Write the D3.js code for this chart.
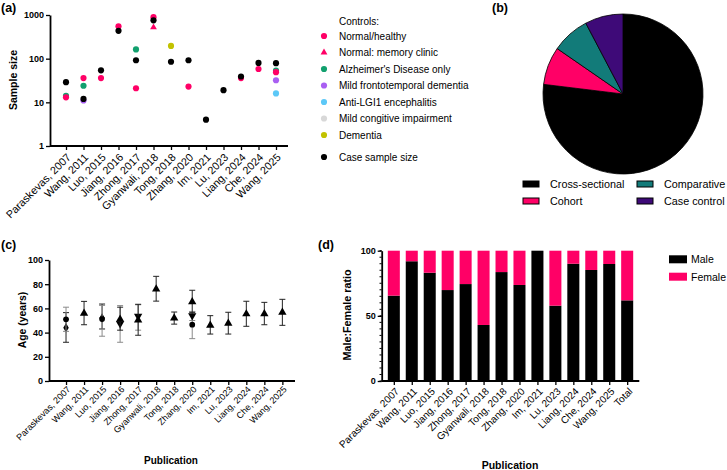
<!DOCTYPE html>
<html>
<head>
<meta charset="utf-8">
<script src="https://cdn.jsdelivr.net/npm/d3@7"></script>
<style>
body { margin: 0; background: #fff; }
svg { font-family: "Liberation Sans", Arial, sans-serif; }
</style>
</head>
<body>
<script>
// ---- data ----
var studies = ["Paraskevas, 2007", "Wang, 2011", "Luo, 2015", "Jiang, 2016", "Zhong, 2017",
  "Gyanwali, 2018", "Tong, 2018", "Zhang, 2020", "Im, 2021", "Lu, 2023", "Liang, 2024",
  "Che, 2024", "Wang, 2025"];

// (a) sample sizes
var caseSize     = [29, 12, 54, 435, 92, 755, 85, 92, 4, 19, 39, 80, 79];
var ctrlHealthy  = [13, 36, 36, 550, 21, 890, null, 23, null, null, 36, 58, 49];
var ctrlMemory   = [null, null, null, null, null, 520, null, null, null, null, null, null, null];
var ctrlAD       = [14, 24, null, null, 163, null, null, null, null, null, null, null, 53];
var ctrlFTD      = [null, 11, null, null, null, null, null, null, null, null, null, null, 32];
var ctrlLGI1     = [null, null, null, null, null, null, null, null, null, null, null, null, 16];
var ctrlMCI      = [null, null, null, null, null, null, null, null, null, null, null, null, null];
var ctrlDementia = [null, null, null, null, null, null, 196, null, null, null, null, null, null];
var controlNames = ["Normal/healthy", "Normal: memory clinic", "Alzheimer's Disease only",
  "Mild frontotemporal dementia", "Anti-LGI1 encephalitis", "Mild congitive impairment", "Dementia"];

// (b) study design
var designs = ["Cross-sectional", "Cohort", "Comparative", "Case control"];
var designCounts = [10, 1, 1, 1];

// (c) age: [mean, low, high]
var ageUp = [null, [56, 46.5, 65.8], null, [51, 42, 61], [50.4, 37.8, 63.4], [76, 66, 86.5],
  [52, 47, 57], [65.5, 56.5, 75], [46, 38.8, 54], [47.7, 38.8, 56.8], [55.4, 45.2, 65.9],
  [55.6, 46.5, 65], [56.8, 46, 67.5]];
var ageCircle = [[51, 41, 61], null, [51.2, 37, 62.5], null, null, null, null, [46.5, 35, 57.3],
  null, null, null, null, null];
var ageDown = [null, null, null, [47.4, 32, 62.3], [53.5, 42, 63], null, null, [54, 50, 57.5],
  null, null, null, null, null];
var ageDiamond = [[44, 32, 56.5], null, [52, 43, 63.6], null, null, null, null, null,
  null, null, null, null, null];

// (d) sex ratio
var sexCategories = studies.concat(["Total"]);
var malePct   = [65.5, 91.9, 83.1, 69.8, 74.4, 43, 83.6, 73.7, 100, 57.8, 90, 85.2, 89.8, 61.9];
var femalePct = [34.5, 8.1, 16.9, 30.2, 25.6, 57, 16.4, 26.3, 0, 42.2, 10, 14.8, 10.2, 38.1];

// ---- colours ----
var pink = "#ff0066";
var ctrlColors = [pink, pink, "#12a06e", "#a95ff2", "#5cc8f7", "#d8d8d8", "#c2c200"];
var pieColors = ["#000000", pink, "#127b79", "#3e0a78"];

var svg = d3.select("body").append("svg")
  .attr("width", 727).attr("height", 470);

function panelLabel(txt, x, y) {
  svg.append("text").attr("x", x).attr("y", y)
    .attr("font-size", 12.5).attr("font-weight", "bold").text(txt);
}

function axisTitle(txt, x, y, rot, size) {
  svg.append("text")
    .attr("transform", "translate(" + x + "," + y + ")" + (rot ? " rotate(-90)" : ""))
    .attr("text-anchor", "middle").attr("font-size", size).attr("font-weight", "bold")
    .text(txt);
}

// category axis with 45deg labels, axis line drawn separately
function catAxis(scale, y, x0, x1, fs, ox, oy) {
  var g = svg.append("g").attr("transform", "translate(0," + y + ")")
    .call(d3.axisBottom(scale).tickSize(4).tickSizeOuter(0));
  g.select(".domain").remove();
  g.selectAll(".tick line").attr("stroke", "#000").attr("stroke-width", 1.3);
  g.selectAll(".tick text")
    .attr("font-size", fs).attr("font-family", "Liberation Sans, Arial, sans-serif")
    .attr("fill", "#000")
    .attr("text-anchor", "end")
    .attr("dx", 0).attr("dy", 0).attr("y", 0)
    .attr("transform", "translate(" + ox + "," + oy + ") rotate(-45)");
  svg.append("line").attr("x1", x0).attr("x2", x1).attr("y1", y).attr("y2", y)
    .attr("stroke", "#000").attr("stroke-width", 1.8);
}

function valAxis(scale, x, ticks, fmt) {
  var g = svg.append("g").attr("transform", "translate(" + x + ",0)")
    .call(d3.axisLeft(scale).tickValues(ticks).tickFormat(fmt).tickSize(4).tickPadding(2).tickSizeOuter(0));
  g.select(".domain").attr("stroke-width", 1.8);
  g.selectAll(".tick line").attr("stroke-width", 1.3);
  g.selectAll(".tick text").attr("font-size", 9).attr("font-weight", "bold")
    .attr("font-family", "Liberation Sans, Arial, sans-serif").attr("fill", "#000");
  return g;
}

// ================= (a) =================
panelLabel("(a)", 1, 12);
var xA = d3.scalePoint().domain(studies).range([48.5, 293.5]).padding(1);
var yA = d3.scaleLog().domain([1, 1000]).range([146, 15]);
valAxis(yA, 50, [1, 10, 100, 1000], d3.format("d"));
catAxis(xA, 146, 50, 288, 10.8, 5, 12);
axisTitle("Sample size", 17, 80, true, 10.5);

var ctrlSeries = [ctrlHealthy, ctrlMemory, ctrlAD, ctrlFTD, ctrlLGI1, ctrlMCI, ctrlDementia];
var drawOrder = [6, 5, 4, 3, 2, 1, 0];
var circleSym = d3.symbol().type(d3.symbolCircle).size(30);
var triSym = d3.symbol().type(d3.symbolTriangle).size(20);
drawOrder.forEach(function (k) {
  var pts = studies.map(function (s, i) { return { s: s, v: ctrlSeries[k][i] }; })
    .filter(function (d) { return d.v != null; });
  svg.append("g").selectAll("path").data(pts).enter().append("path")
    .attr("d", k === 1 ? triSym : circleSym)
    .attr("transform", function (d) { return "translate(" + xA(d.s) + "," + yA(d.v) + ")"; })
    .attr("fill", ctrlColors[k]);
});
svg.append("g").selectAll("path").data(caseSize).enter().append("path")
  .attr("d", circleSym)
  .attr("transform", function (d, i) { return "translate(" + xA(studies[i]) + "," + yA(d) + ")"; })
  .attr("fill", "#000");

// legend (a)
var legA = svg.append("g").attr("font-size", 10);
legA.append("text").attr("x", 339).attr("y", 25).text("Controls:");
controlNames.forEach(function (n, k) {
  var y = 36 + k * 16.5;
  legA.append("path").attr("d", k === 1 ? triSym : circleSym)
    .attr("transform", "translate(324," + y + ")").attr("fill", ctrlColors[k]);
  legA.append("text").attr("x", 339).attr("y", y + 3.5).text(n);
});
legA.append("path").attr("d", circleSym).attr("transform", "translate(324,157)").attr("fill", "#000");
legA.append("text").attr("x", 339).attr("y", 160.5).text("Case sample size");

// ================= (b) =================
panelLabel("(b)", 492, 12);
var pie = d3.pie().sort(null).value(function (d) { return d; });
var arc = d3.arc().innerRadius(0).outerRadius(80);
svg.append("g").attr("transform", "translate(623,94)")
  .selectAll("path").data(pie(designCounts)).enter().append("path")
  .attr("d", arc)
  .attr("fill", function (d, i) { return pieColors[i]; })
  .attr("stroke", "#000").attr("stroke-width", 0.8);

var legB = svg.append("g").attr("font-size", 10.8);
designs.forEach(function (n, i) {
  // col 0: Cross-sectional, Cohort; col 1: Comparative, Case control
  var c = (i < 2) ? 0 : 1;
  var r = (i % 2);
  var sx = c === 0 ? 523 : 637;
  var tx = c === 0 ? 550 : 664;
  var y = 184 + r * 17;
  legB.append("rect").attr("x", sx).attr("y", y - 3).attr("width", 16).attr("height", 6)
    .attr("fill", pieColors[i]).attr("stroke", "#000").attr("stroke-width", 1);
  legB.append("text").attr("x", tx).attr("y", y + 4).text(n);
});

// ================= (c) =================
panelLabel("(c)", 1, 249);
var xC = d3.scalePoint().domain(studies).range([48, 300.4]).padding(1);
var yC = d3.scaleLinear().domain([0, 100]).range([381, 260]);
valAxis(yC, 49, [0, 20, 40, 60, 80, 100], d3.format("d"));
catAxis(xC, 381, 49, 295, 9, 4.5, 9);
axisTitle("Age (years)", 26, 320, true, 10.4);
axisTitle("Publication", 171, 464, false, 10);

var ageSeries = [
  { data: ageDiamond, sym: d3.symbol().type(d3.symbolDiamond).size(26), rot: 0, bar: "#222" },
  { data: ageCircle, sym: d3.symbol().type(d3.symbolCircle).size(26), rot: 0, bar: "#8a8a8a" },
  { data: ageDown, sym: d3.symbol().type(d3.symbolTriangle).size(30), rot: 180, bar: "#8a8a8a" },
  { data: ageUp, sym: d3.symbol().type(d3.symbolTriangle).size(30), rot: 0, bar: "#222" }
];
ageSeries.forEach(function (ser) {
  var pts = studies.map(function (s, i) { return { s: s, v: ser.data[i] }; })
    .filter(function (d) { return d.v != null; });
  var g = svg.append("g").selectAll("g").data(pts).enter().append("g")
    .attr("transform", function (d) { return "translate(" + xC(d.s) + ",0)"; });
  g.append("line").attr("y1", function (d) { return yC(d.v[1]); })
    .attr("y2", function (d) { return yC(d.v[2]); })
    .attr("stroke", ser.bar).attr("stroke-width", 1);
  [1, 2].forEach(function (j) {
    g.append("line").attr("x1", -3).attr("x2", 3)
      .attr("y1", function (d) { return yC(d.v[j]); })
      .attr("y2", function (d) { return yC(d.v[j]); })
      .attr("stroke", ser.bar).attr("stroke-width", 1);
  });
  g.append("path").attr("d", ser.sym)
    .attr("transform", function (d) { return "translate(0," + yC(d.v[0]) + ") rotate(" + ser.rot + ")"; })
    .attr("fill", "#000");
});

// ================= (d) =================
panelLabel("(d)", 318, 249);
var xD = d3.scaleBand().domain(sexCategories).range([381.7, 639.3])
  .paddingInner(0.33).paddingOuter(0.34);
var yD = d3.scaleLinear().domain([0, 100]).range([381, 250.7]);

var stack = d3.stack().keys(["male", "female"]);
var sexRows = sexCategories.map(function (c, i) { return { cat: c, male: malePct[i], female: femalePct[i] }; });
var layers = stack(sexRows);
var sexColors = ["#000", pink];
svg.append("g").selectAll("g").data(layers).enter().append("g")
  .attr("fill", function (d, i) { return sexColors[i]; })
  .selectAll("rect").data(function (d) { return d; }).enter().append("rect")
  .attr("x", function (d) { return xD(d.data.cat); })
  .attr("width", xD.bandwidth())
  .attr("y", function (d) { return yD(d[1]); })
  .attr("height", function (d) { return yD(d[0]) - yD(d[1]); });

// minor ticks
svg.append("g").selectAll("line").data(d3.range(0, 101, 5)).enter().append("line")
  .attr("x1", 379.5).attr("x2", 381.7)
  .attr("y1", function (d) { return yD(d); }).attr("y2", function (d) { return yD(d); })
  .attr("stroke", "#000").attr("stroke-width", 1);
var gD = svg.append("g").attr("transform", "translate(381.7,0)")
  .call(d3.axisLeft(yD).tickValues([0, 50, 100]).tickSize(4).tickPadding(2).tickSizeOuter(0));
gD.select(".domain").attr("stroke-width", 1.8);
gD.selectAll(".tick line").attr("stroke-width", 1.3);
gD.selectAll(".tick text").attr("font-size", 9).attr("font-weight", "bold")
  .attr("font-family", "Liberation Sans, Arial, sans-serif").attr("fill", "#000");

var xDc = d3.scalePoint().domain(sexCategories)
  .range([xD(sexCategories[0]) + xD.bandwidth() / 2, xD("Total") + xD.bandwidth() / 2]);
catAxis(xDc, 381, 381.7, 639.3, 10, 5.5, 11);
axisTitle("Male:Female ratio", 351, 315, true, 10.8);
axisTitle("Publication", 510, 469, false, 10.5);

var legD = svg.append("g").attr("font-size", 10.5);
["Male", "Female"].forEach(function (n, i) {
  var y = 259.3 + i * 17.4;
  legD.append("rect").attr("x", 669).attr("y", y - 4).attr("width", 18).attr("height", 8)
    .attr("fill", sexColors[i]);
  legD.append("text").attr("x", 691).attr("y", y + 4).text(n);
});
</script>
</body>
</html>
